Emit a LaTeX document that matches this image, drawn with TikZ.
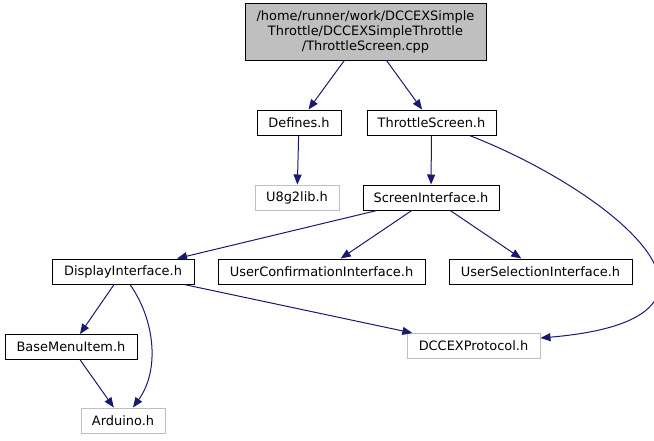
\documentclass[tikz,border=0pt]{standalone}
\usepackage{fontspec}
\setmainfont{DejaVu Sans}
\usetikzlibrary{arrows.meta,calc}
\definecolor{edgeblue}{RGB}{25,25,112}
\definecolor{boxgray}{RGB}{191,191,191}

\begin{document}
\begin{tikzpicture}[x=0.75pt, y=-0.75pt, font=\fontsize{9.7}{11.25}\selectfont,
  file/.style={draw=black, line width=0.75pt, inner sep=0pt, minimum height=18.75pt},
  ext/.style={file, draw=boxgray},
  edge/.style={edgeblue, line width=0.75pt, -{Triangle[length=7.5pt,width=6pt]}}]
  \useasboundingbox (0,0) rectangle (654,440);
  \node[file, fill=boxgray, minimum width=180.75pt, minimum height=42.75pt, align=center] (cpp) at (365.5,31.5)
    {/home/runner/work/DCCEXSimple\\Throttle/DCCEXSimpleThrottle\\/ThrottleScreen.cpp};
  \foreach \n/\x/\y/\w/\t in {defines/299/122.5/84/Defines.h, throttle/431.5/122.5/129/ThrottleScreen.h,
      screen/431/197.5/136/ScreenInterface.h, display/123/271.5/142/DisplayInterface.h,
      userconf/321.5/271.5/207/UserConfirmationInterface.h, usersel/540.5/271.5/183/UserSelectionInterface.h,
      basemenu/71/347/132/BaseMenuItem.h} {
    \node[file, minimum width=0.75pt*\w] (\n) at (\x,\y) {\t};
  }
  \foreach \n/\x/\y/\w/\t in {u8g2/297/197.5/84/U8g2lib.h, dccex/473.5/346/133/DCCEXProtocol.h,
      arduino/123/420.5/84/Arduino.h} {
    \node[ext, minimum width=0.75pt*\w] (\n) at (\x,\y) {\t};
  }
  \foreach \a/\b in {cpp/defines, cpp/throttle, defines/u8g2, throttle/screen, screen/display,
      screen/userconf, screen/usersel, display/basemenu, display/dccex, basemenu/arduino} {
    \draw[edge] (\a) -- (\b);
  }
  \draw[edge] ($(display.south)+(7,0)$) .. controls (155,320) and (160,370) .. ($(arduino.north)+(10,0)$);
  \draw[edge] ($(throttle.south)+(38,0)$) .. controls (605,188) and (775,318) .. ($(dccex.east)+(0,-8)$);
\end{tikzpicture}
\end{document}
